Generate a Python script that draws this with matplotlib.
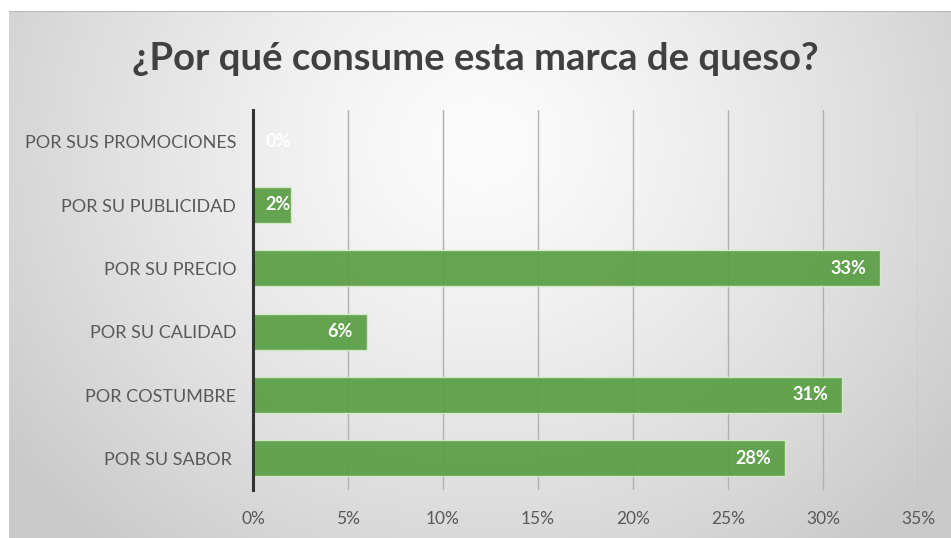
import numpy as np
import matplotlib
matplotlib.use("Agg")
import matplotlib.pyplot as plt

title = "¿Por qué consume esta marca de queso?"
categories = ["POR SU SABOR ", "POR COSTUMBRE", "POR SU CALIDAD", "POR SU PRECIO",
              "POR SU PUBLICIDAD", "POR SUS PROMOCIONES"]
values = [28, 31, 6, 33, 2, 0]
xticks = [0, 5, 10, 15, 20, 25, 30, 35]
xtick_labels = ["0%", "5%", "10%", "15%", "20%", "25%", "30%", "35%"]

plt.rcParams['font.family'] = ['Lato', 'DejaVu Sans']

W, H = 951, 538
fig = plt.figure(figsize=(W / 100, H / 100), dpi=100)
fig.patch.set_facecolor("white")

# background radial gradient panel
bg = fig.add_axes([9 / W, 0, 1 - 9 / W, (H - 11) / H])
bg.set_axis_off()
ny, nx = 300, 500
yy, xx = np.mgrid[0:ny, 0:nx]
cx, cy = 0.5 * nx, 0.25 * ny
d = np.sqrt(((xx - cx) / (0.62 * nx)) ** 2 + ((yy - cy) / (1.0 * ny)) ** 2)
d = np.clip(d, 0, 1)
g = 252 - (252 - 202) * d ** 1.3
img = np.dstack([g, g, g + 1]) / 255.0
img = np.clip(img, 0, 1)
bg.imshow(img, aspect="auto", extent=[0, 1, 0, 1], origin="upper")
bg.set_xlim(0, 1)
bg.set_ylim(0, 1)
bg.axhline(1, color="#b8b8b8", lw=1.5)

left, right = 253 / W, 918 / W
bottom, top = (H - 490) / H, (H - 110) / H
ax = fig.add_axes([left, bottom, right - left, top - bottom])
ax.patch.set_alpha(0)

y = np.arange(len(categories))
ax.barh(y, values, height=0.57, color="#5a9e44", alpha=0.93,
        edgecolor="#d4ecc8", linewidth=1.0, zorder=3)

ax.set_xlim(0, 35)
ax.set_ylim(-0.5, len(categories) - 0.5)
ax.set_xticks(xticks)
ax.set_xticklabels(xtick_labels)
ax.set_yticks(y)
ax.set_yticklabels(categories)
ax.grid(axis="x", color="#b0b0b0", lw=1.0, zorder=1)
ax.tick_params(axis="x", length=0, pad=15, labelsize=12.5, labelcolor="#595959")
ax.tick_params(axis="y", length=0, pad=12, labelsize=13, labelcolor="#595959")
for s in ["top", "right", "bottom"]:
    ax.spines[s].set_visible(False)
ax.spines["left"].set_color("#333333")
ax.spines["left"].set_linewidth(2.2)
ax.spines["left"].set_zorder(4)

px_per_unit = (918 - 253) / 35.0
for yi, v in zip(y, values):
    if v * px_per_unit > 45:
        ax.text(v - 14 / px_per_unit, yi, f"{v}%", ha="right", va="center",
                color="white", fontsize=13, fontweight="bold", zorder=5)
    else:
        ax.text(12 / px_per_unit, yi, f"{v}%", ha="left", va="center",
                color="white", fontsize=13, fontweight="bold", zorder=5)

fig.text(0.5, (H - 59) / H, title, ha="center", va="center",
         fontsize=27.5, fontweight="bold", color="#404040")

fig.savefig("out.png", dpi=100)
